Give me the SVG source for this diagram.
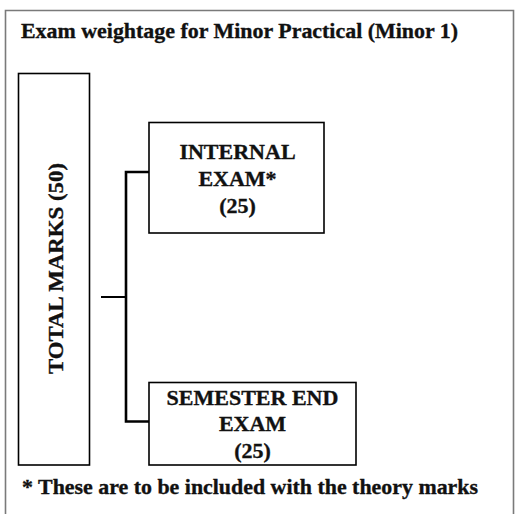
<svg xmlns="http://www.w3.org/2000/svg" width="515" height="514" viewBox="0 0 515 514">
<style>
.t{font-weight:bold;font-size:22px;fill:#111;stroke:#111;stroke-width:0.35}
.box{fill:#fff;stroke:#000;stroke-width:1.6}
.c{fill:none;stroke:#000;stroke-linecap:butt;stroke-linejoin:miter}
</style>
<rect width="515" height="514" fill="#fff"/>
<g font-family="'Liberation Serif', 'DejaVu Serif', serif">
<g id="frame"><path d="M5.5,520 V10.5 H513.5 V520" fill="none" stroke="#7a7a7a" stroke-width="1.6"/></g>
<g id="title"><text class="t" x="21" y="38" textLength="437" lengthAdjust="spacingAndGlyphs">Exam weightage for Minor Practical (Minor 1)</text></g>
<g id="connectors">
<path class="c" stroke-width="2.6" d="M151,172 H126 V421.5 H151"/>
<path class="c" stroke-width="2" d="M101,297 H126"/>
</g>
<g id="total">
<rect class="box" x="18.5" y="73.5" width="71" height="391.5"/>
<text class="t" transform="translate(63,268.5) rotate(-90)" text-anchor="middle" textLength="211" lengthAdjust="spacingAndGlyphs">TOTAL MARKS (50)</text>
</g>
<g id="internal">
<rect class="box" x="149" y="122.5" width="175" height="110.5"/>
<text class="t" x="237.5" y="159" text-anchor="middle">INTERNAL</text>
<text class="t" x="237.5" y="186" text-anchor="middle">EXAM*</text>
<text class="t" x="237.5" y="213" text-anchor="middle">(25)</text>
</g>
<g id="semester">
<rect class="box" x="149" y="382.5" width="207" height="82.5"/>
<text class="t" x="252.5" y="405" text-anchor="middle">SEMESTER END</text>
<text class="t" x="252.5" y="431" text-anchor="middle">EXAM</text>
<text class="t" x="252.5" y="458" text-anchor="middle">(25)</text>
</g>
<g id="footnote"><text class="t" x="22" y="494" textLength="456" lengthAdjust="spacingAndGlyphs">* These are to be included with the theory marks</text></g>
</g>
</svg>
